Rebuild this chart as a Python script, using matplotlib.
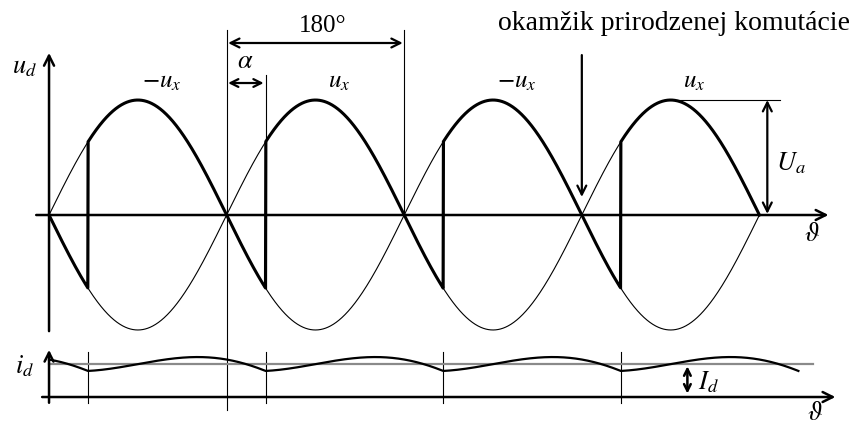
import numpy as np
import matplotlib
matplotlib.use('Agg')
import matplotlib.pyplot as plt

plt.rcParams['mathtext.fontset'] = 'stix'
plt.rcParams['font.family'] = ['Liberation Serif', 'DejaVu Serif']

# control angle and number of half periods drawn
alpha = 39.5          # deg
n_half = 4
period = 180.0        # deg per half wave
Id = 1.0              # mean load current (p.u.)
k_ripple = 0.61       # current ripple gain
labels_top = ['$-u_x$', '$u_x$', '$-u_x$', '$u_x$']

# vertical layout of the two traces (voltage units, 1 = amplitude)
i_base = -1.583       # zero of the current trace
i_scale = 0.287       # voltage units per 1 p.u. of current

lw_thick = 2.2
lw_ax = 1.8
lw_thin = 0.8

fig = plt.figure(figsize=(8.57, 4.23), dpi=100)
ax = fig.add_axes([0, 0, 1, 1])
ax.set_xlim(-49.7, 818.9)
ax.set_ylim(-1.809, 1.870)
ax.axis('off')

th_end = n_half * period
th = np.linspace(0, th_end, 2000)
r = np.radians(th)

# both source voltages, thin
ax.plot(th, np.sin(r), color='k', lw=lw_thin)
ax.plot(th, -np.sin(r), color='k', lw=lw_thin)

# rectified voltage u_d: follows the fired phase until the next firing
kk = np.floor((th - alpha) / 180.0)
ud = np.where(kk < 0, -np.sin(r), np.abs(np.sin(np.radians(th - kk * 180))) *
              np.where(th - kk * 180 <= 180, 1, -1))
ax.plot(th, ud, color='k', lw=lw_thick)

sa = np.sin(np.radians(alpha))
for k in range(n_half):
    ta = alpha + k * period
    ax.plot([ta, ta], [-sa, sa], color='k', lw=1.6)
    # firing marks on the current trace
    ax.plot([ta, ta], [i_base - 0.05, i_base + 0.39], color='k', lw=lw_thin)
    ax.text(period * k + 114, 1.06, labels_top[k], fontsize=18, ha='center', va='bottom')

# axes of the voltage plot
ax.annotate('', xy=(0, 1.41), xytext=(0, -1.01),
            arrowprops=dict(arrowstyle='->', lw=lw_ax, color='k', mutation_scale=18, shrinkA=0, shrinkB=0))
ax.annotate('', xy=(790, 0), xytext=(-13, 0),
            arrowprops=dict(arrowstyle='->', lw=lw_ax, color='k', mutation_scale=18, shrinkA=0, shrinkB=0))
ax.text(-25, 1.28, '$u_d$', fontsize=19, ha='center', va='center')
ax.text(773, -0.17, r'$\vartheta$', fontsize=19, ha='center', va='center')

# 180 deg marker
ax.plot([180, 180], [1.609, -1.696], color='k', lw=lw_thin)
ax.plot([360, 360], [1.609, 0], color='k', lw=lw_thin)
ax.annotate('', xy=(181.5, 1.496), xytext=(358.5, 1.496),
            arrowprops=dict(arrowstyle='<->', lw=1.6, color='k', mutation_scale=16, shrinkA=0, shrinkB=0))
ax.text(277, 1.55, '180°', fontsize=18, ha='center', va='bottom')

# alpha marker
ax.plot([alpha + period, alpha + period], [1.217, sa], color='k', lw=lw_thin)
ax.annotate('', xy=(181.5, 1.148), xytext=(217.5, 1.148),
            arrowprops=dict(arrowstyle='<->', lw=1.6, color='k', mutation_scale=14, shrinkA=0, shrinkB=0))
ax.text(199, 1.33, r'$\alpha$', fontsize=19, ha='center', va='center')

# natural commutation
ax.annotate('', xy=(3 * period, 0.157), xytext=(3 * period, 1.391),
            arrowprops=dict(arrowstyle='->', lw=1.6, color='k', mutation_scale=16, shrinkA=0, shrinkB=0))
ax.text(633, 1.56, 'okamžik prirodzenej komutácie', fontsize=20, ha='center', va='bottom')

# amplitude U_a
ax.plot([633, 741], [1, 1], color='k', lw=lw_thin)
ax.annotate('', xy=(728, 1.0), xytext=(728, 0.01),
            arrowprops=dict(arrowstyle='<->', lw=1.6, color='k', mutation_scale=16, shrinkA=0, shrinkB=0))
ax.text(752, 0.45, '$U_a$', fontsize=19, ha='center', va='center')

# load current i_d
th_i = np.linspace(0, th_end + alpha, 2000)
avg = 2 / np.pi * np.cos(np.radians(alpha))
ph = np.mod(th_i - alpha, 180) + alpha
integ = -np.cos(np.radians(ph)) + np.cos(np.radians(alpha)) - avg * np.radians(ph - alpha)
i_d = Id - 0.21 + k_ripple * integ
ax.plot([0, 774], [i_base + Id * i_scale] * 2, color='#8a8a8a', lw=1.6)
ax.plot(th_i, i_base + i_d * i_scale, color='k', lw=1.6)

ax.annotate('', xy=(0, i_base + 0.41), xytext=(0, i_base - 0.05),
            arrowprops=dict(arrowstyle='->', lw=lw_ax, color='k', mutation_scale=16, shrinkA=0, shrinkB=0))
ax.annotate('', xy=(797, i_base), xytext=(-7, i_base),
            arrowprops=dict(arrowstyle='->', lw=lw_ax, color='k', mutation_scale=18, shrinkA=0, shrinkB=0))
ax.text(-25, i_base + 0.27, '$i_d$', fontsize=19, ha='center', va='center')
ax.text(776, i_base - 0.14, r'$\vartheta$', fontsize=19, ha='center', va='center')

ax.annotate('', xy=(647, i_base + Id * i_scale - 0.02), xytext=(647, i_base + 0.03),
            arrowprops=dict(arrowstyle='<->', lw=1.8, color='k', mutation_scale=12, shrinkA=0, shrinkB=0))
ax.text(658, i_base + 0.13, '$I_d$', fontsize=19, ha='left', va='center')

fig.savefig('out.png', dpi=100)
